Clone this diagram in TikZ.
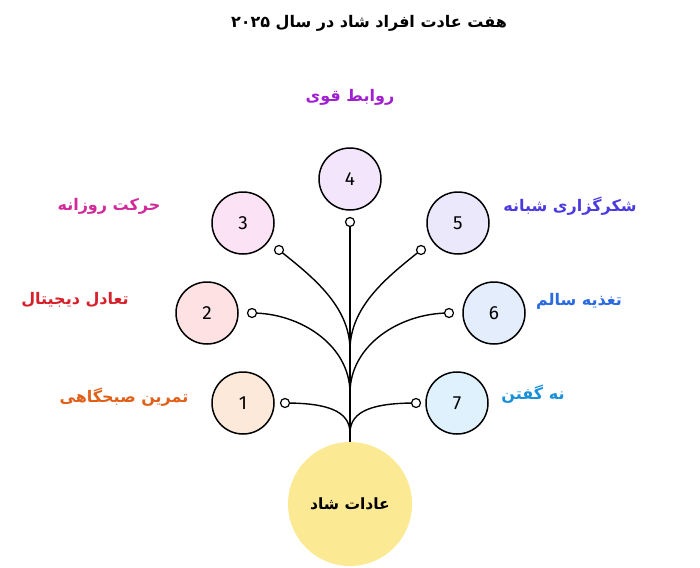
\documentclass[tikz,border=0pt]{standalone}
\usepackage{fontspec}
\TeXXeTstate=1
\newfontfamily\fa[Script=Arabic]{DejaVu Sans}
\newfontfamily\numf{Fira Sans}
\definecolor{cA}{HTML}{E0601A}
\definecolor{cB}{HTML}{D8202A}
\definecolor{cC}{HTML}{D02A9A}
\definecolor{cD}{HTML}{A020D0}
\definecolor{cE}{HTML}{4A3ADF}
\definecolor{cF}{HTML}{2A6AE0}
\definecolor{cG}{HTML}{1A90D8}
\definecolor{fA}{HTML}{FDE9D9}
\definecolor{fB}{HTML}{FDE1E3}
\definecolor{fC}{HTML}{FBE3F5}
\definecolor{fD}{HTML}{F3E6FC}
\definecolor{fE}{HTML}{ECE8FC}
\definecolor{fF}{HTML}{E3EDFC}
\definecolor{fG}{HTML}{DFF1FC}
\definecolor{hub}{HTML}{FBE993}
\tikzset{
  habit/.style={circle,draw=black,line width=1.5pt,minimum size=62pt,inner sep=0pt,font=\numf\fontsize{19}{21}\selectfont},
  dot/.style={circle,draw=black,line width=1.2pt,fill=white,minimum size=9pt,inner sep=0pt},
  lbl/.style={font=\fa\bfseries\fontsize{16}{19}\selectfont},
  link/.style={draw=black,line width=1.4pt},
}
\begin{document}
\begin{tikzpicture}[x=1pt,y=-1pt]
\useasboundingbox (0,0) rectangle (700,567);
\node[font=\fa\bfseries\fontsize{16}{19}\selectfont] (title) at (369,23) {\beginR هفت عادت افراد شاد در سال \beginL ۲۰۲۵\endL\endR};
% hub
\node[circle,fill=hub,minimum size=124pt,inner sep=0pt,font=\fa\bfseries\fontsize{15.5}{18}\selectfont] (hub) at (350,504) {\beginR عادات شاد\endR};
% habit circles
\node[habit,fill=fA] (c1) at (243,403) {1};
\node[habit,fill=fB] (c2) at (207,313) {2};
\node[habit,fill=fC] (c3) at (243,223) {3};
\node[habit,fill=fD] (c4) at (350,179) {4};
\node[habit,fill=fE] (c5) at (458,223) {5};
\node[habit,fill=fF] (c6) at (494,313) {6};
\node[habit,fill=fG] (c7) at (457,403) {7};
% labels
\node[lbl,text=cA] (l1) at (124,397) {\beginR تمرین صبحگاهی\endR};
\node[lbl,text=cB] (l2) at (75,300) {\beginR تعادل دیجیتال\endR};
\node[lbl,text=cC] (l3) at (109,206) {\beginR حرکت روزانه\endR};
\node[lbl,text=cD] (l4) at (350,97) {\beginR روابط قوی\endR};
\node[lbl,text=cE] (l5) at (570,206) {\beginR شکرگزاری شبانه\endR};
\node[lbl,text=cF] (l6) at (579,301) {\beginR تغذیه سالم\endR};
\node[lbl,text=cG] (l7) at (533,394) {\beginR نه گفتن\endR};
% junction coordinates
\coordinate (m1) at (350,433);
\coordinate (m2) at (350,393);
\coordinate (m3) at (350,350);
% dots positions
\coordinate (p1) at (285,403);
\coordinate (p2) at (252,313);
\coordinate (p3) at (279,250);
\coordinate (p4) at (350,222);
\coordinate (p5) at (421,250);
\coordinate (p6) at (449,313);
\coordinate (p7) at (416,403);
% connectors
\draw[link] (p4) -- (hub.north);
\draw[link] (p1) .. controls (325,403) and (350,410) .. (m1);
\draw[link] (p7) .. controls (375,403) and (350,410) .. (m1);
\draw[link] (p2) .. controls (300,313) and (350,345) .. (m2);
\draw[link] (p6) .. controls (400,313) and (350,345) .. (m2);
\draw[link] (p3) .. controls (310,275) and (350,305) .. (m3);
\draw[link] (p5) .. controls (390,275) and (350,305) .. (m3);
% dots
\foreach \i in {1,...,7} {\node[dot] (s\i) at (p\i) {};}
\end{tikzpicture}
\end{document}
